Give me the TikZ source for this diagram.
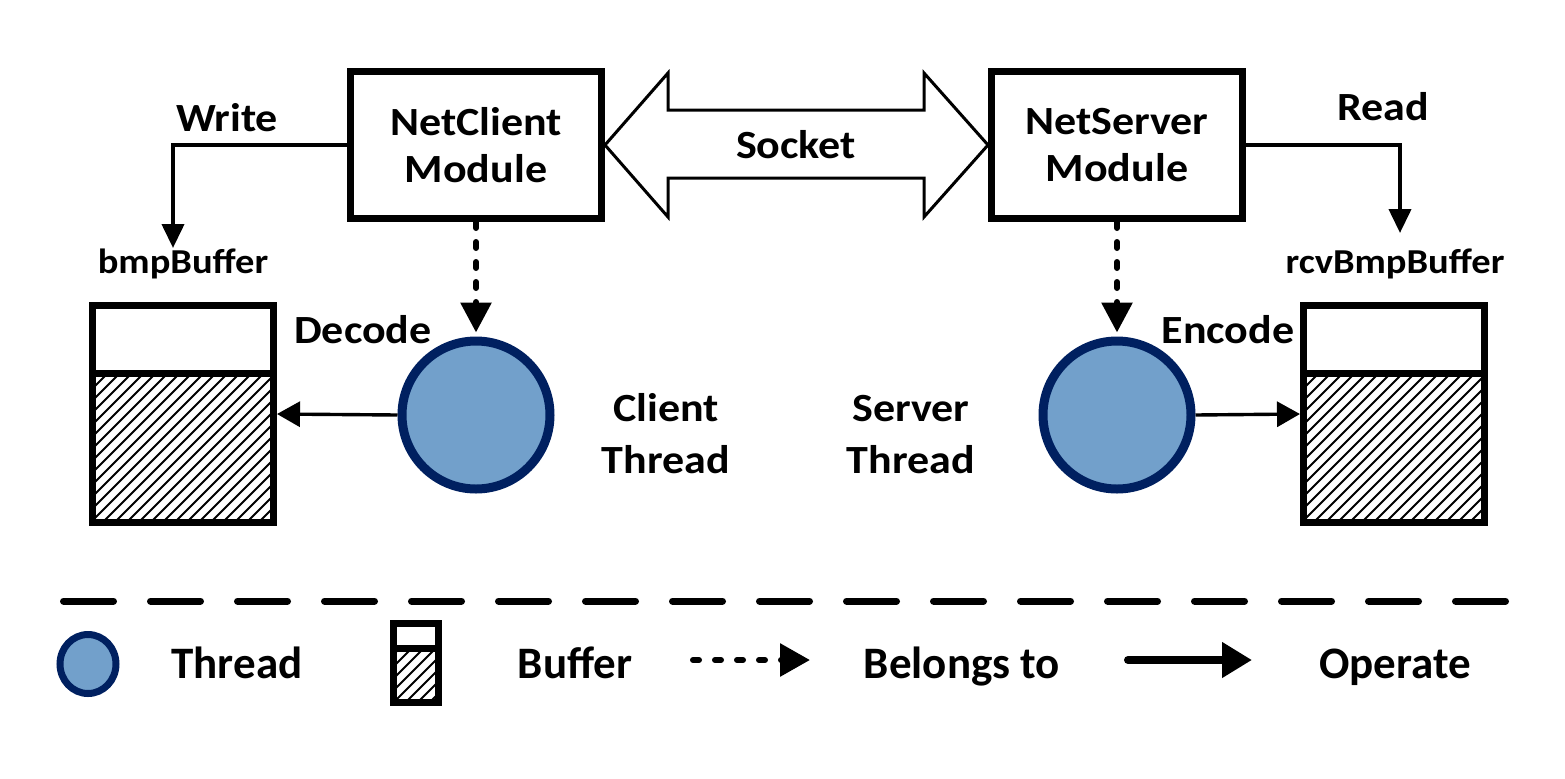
\documentclass[tikz,border=0pt]{standalone}
\usepackage{fontspec}
\setmainfont{Carlito}
\newfontfamily\mf{Carlito}[FakeStretch=1.1]
\usetikzlibrary{arrows.meta,shapes.geometric,calc}
\definecolor{thfill}{RGB}{114,160,203}
\definecolor{thline}{RGB}{0,32,96}
\begin{document}
\begin{tikzpicture}[x=0.5pt,y=-0.5pt,
  lbl/.style={font=\mf\bfseries\fontsize{20}{26}\selectfont, inner sep=0, anchor=base, align=center},
  sml/.style={font=\mf\bfseries\fontsize{17.5}{20}\selectfont, inner sep=0, anchor=base},
  leg/.style={font=\bfseries\fontsize{22.5}{27}\selectfont, inner sep=0, anchor=base},
  module/.style={draw, line width=3.5pt, minimum width=125.5pt, minimum height=73.5pt, inner sep=0, align=center,
     font=\mf\bfseries\fontsize{20}{23.5}\selectfont},
  thread/.style={circle, draw=thline, fill=thfill, line width=4.5pt, minimum size=74pt, inner sep=0},
  buf/.style={draw, line width=3.5pt, minimum width=90.5pt, minimum height=108.5pt, inner sep=0},
  hatchline/.style={line width=1pt},
  rw/.style={line width=2pt, -{Triangle[length=12pt,width=11pt]}},
  belongs/.style={line width=3pt, line cap=round, dash pattern=on 3pt off 7pt, -{Triangle[length=15pt,width=15pt]}},
  operate/.style={line width=1.7pt, -{Triangle[length=11.5pt,width=12.5pt]}},
  socketarrow/.style={draw, line width=1.5pt, fill=white, line join=miter}
]
\useasboundingbox (0,0) rectangle (1565,778);

% modules
\node[module] (nc) at (476,145) {NetClient\\Module};
\node[module] (ns) at (1117,145) {NetServer\\Module};

% socket double arrow
\draw[socketarrow] (nc.east) -- ++(63,-72) -- ++(0,37) -- ($(ns.west)+(-64,-35)$) -- ++(0,-37) -- (ns.west)
   -- ++(-64,72) -- ++(0,-39) -- ($(nc.east)+(63,33)$) -- ++(0,39) -- cycle;
\node[lbl] (sock) at (796,158) {Socket};

% threads
\node[thread] (ct) at (476,415) {};
\node[thread] (st) at (1117,415) {};

% buffers
\node[buf] (b1) at (183,414) {};
\node[buf] (b2) at (1394,414) {};
\coordinate (d1) at (0,373);
\begin{scope}
  \clip (92.5,373) rectangle (273.5,522.5);
  \foreach \i in {-170,-158,...,190} \draw[hatchline] (92.5+\i,522.5) -- ++(170,-170);
\end{scope}
\begin{scope}
  \clip (1303.5,373) rectangle (1484.5,522.5);
  \foreach \i in {-170,-158,...,190} \draw[hatchline] (1303.5+\i,522.5) -- ++(170,-170);
\end{scope}
\draw[line width=3.5pt] (b1.west |- d1) -- (b1.east |- d1);
\draw[line width=3.5pt] (b2.west |- d1) -- (b2.east |- d1);
\node[buf] at (183,414) {};
\node[buf] at (1394,414) {};

% write / read
\coordinate (wtip) at (173,248);
\coordinate (rtip) at (1400,233);
\draw[rw] (nc.west) -| (wtip);
\draw[rw] (ns.east) -| (rtip);
\node[lbl] (write) at (227,131) {Write};
\node[lbl] (read) at (1383,120) {Read};
\node[sml] (bmp) at (183,273) {bmpBuffer};
\node[sml] (rcv) at (1395,273) {rcvBmpBuffer};

% belongs to
\draw[belongs, shorten >=2pt] (nc.south) -- (ct.north);
\draw[belongs, shorten >=2pt] (ns.south) -- (st.north);

% operate
\draw[operate] (ct.west) -- (b1.east);
\draw[operate] (st.east) -- (b2.west);

\node[lbl] (dec) at (363,343) {Decode};
\node[lbl] (enc) at (1228,343) {Encode};
\node[lbl] (cthr) at (666,473) {Client\\Thread};
\node[lbl] (sthr) at (911,473) {Server\\Thread};

% legend separator
\coordinate (sepa) at (63.5,601);
\coordinate (sepb) at (1506.5,601);
\draw[line width=3.5pt, line cap=round, dash pattern=on 25pt off 18.5pt] (sepa) -- (sepb);

% legend
\node[ellipse, draw=thline, fill=thfill, line width=3.5pt, minimum width=28pt, minimum height=29.5pt, inner sep=0] (lt) at (88,664) {};
\node[leg] (ltt) at (237,678) {Thread};
\node[draw, line width=3.5pt, minimum width=22.5pt, minimum height=39.5pt, inner sep=0] (lb) at (416,663) {};
\coordinate (d2) at (0,648);
\begin{scope}
  \clip (393.5,648) rectangle (438.5,702.5);
  \foreach \i in {-60,-48,...,60} \draw[hatchline] (393.5+\i,702.5) -- ++(60,-60);
\end{scope}
\draw[line width=3.5pt] (lb.west |- d2) -- (lb.east |- d2);
\node[draw, line width=3.5pt, minimum width=22.5pt, minimum height=39.5pt, inner sep=0] at (416,663) {};
\node[leg] (lbt) at (575,678) {Buffer};
\coordinate (la1) at (693,660);
\coordinate (la2) at (810,660);
\draw[line width=3pt, line cap=round, dash pattern=on 3pt off 8pt, -{Triangle[length=15pt,width=16pt]}] (la1) -- (la2);
\node[leg] (lat) at (962,678) {Belongs to};
\coordinate (lo1) at (1128,660);
\coordinate (lo2) at (1252,660);
\draw[line width=4pt, line cap=round, -{Triangle[length=15pt,width=17pt]}] (lo1) -- (lo2);
\node[leg] (lot) at (1395,678) {Operate};
\end{tikzpicture}
\end{document}
